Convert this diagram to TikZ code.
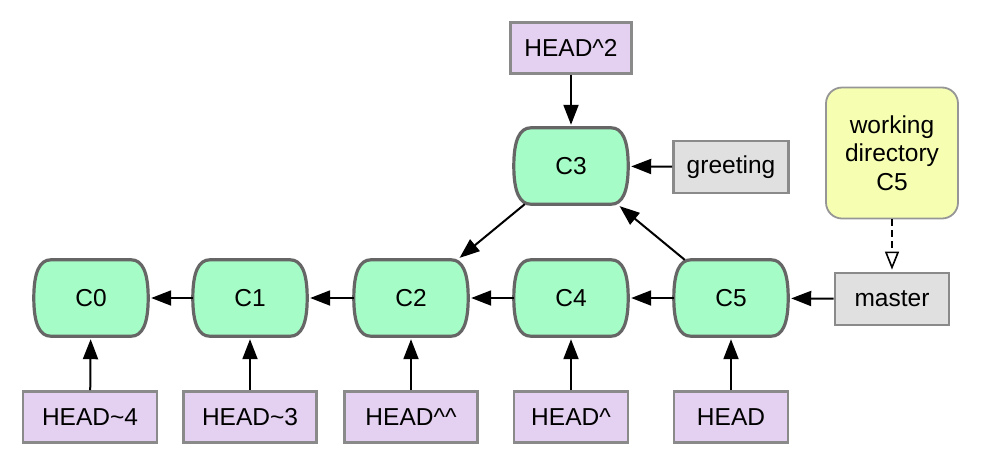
\documentclass[tikz,border=0pt]{standalone}
\usepackage{fontspec}
\setmainfont{Liberation Sans}
\usetikzlibrary{arrows.meta}
\pgfdeclarelayer{bg}
\pgfsetlayers{bg,main}
\definecolor{cgreen}{RGB}{166,252,198}
\definecolor{cborder}{RGB}{102,102,102}
\definecolor{lborder}{RGB}{138,138,138}
\definecolor{lav}{RGB}{228,208,240}
\definecolor{lgray}{RGB}{224,224,224}
\definecolor{lyellow}{RGB}{246,254,178}
\definecolor{yborder}{RGB}{150,150,150}
\begin{document}
\begin{tikzpicture}[x=1pt,y=1pt,
  every node/.style={font=\fontsize{24.5}{28.5}\selectfont, text=black},
  commit/.style={minimum width=114pt, minimum height=76pt, inner sep=0pt},
  commitbody/.style={draw=cborder, line width=3.2pt, fill=cgreen},
  reflabel/.style={draw=lborder, line width=2.8pt, fill=lav, minimum height=51pt, inner sep=0pt},
  branch/.style={draw=lborder, line width=2.8pt, fill=lgray, minimum width=115pt, minimum height=52pt, inner sep=0pt},
  wdir/.style={draw=yborder, line width=1.8pt, fill=lyellow, rounded corners=16pt, minimum width=132pt, minimum height=131pt, align=center, inner sep=0pt},
  ptr/.style={line width=2pt, -{Triangle[length=20pt,width=15pt]}, shorten >=3pt},
  wptr/.style={line width=1.6pt, dashed, dash pattern=on 7pt off 4pt, -{Triangle[open,length=18pt,width=14pt,line width=1.6pt]}, shorten >=2pt}
]
\useasboundingbox (0,0) rectangle (981,-464);
% commits
\node[commit] (c0) at (91,-298) {C0};
\node[commit] (c1) at (250,-298) {C1};
\node[commit] (c2) at (411,-298) {C2};
\node[commit] (c4) at (571,-298) {C4};
\node[commit] (c5) at (731,-298) {C5};
\node[commit] (c3) at (571,-166) {C3};
\begin{pgfonlayer}{bg}
\foreach \n in {c0,c1,c2,c3,c4,c5}{
  \path[commitbody] ([xshift=17]\n.north west) -- ([xshift=-17]\n.north east)
   .. controls ([xshift=-6]\n.north east) and ([yshift=-12]\n.north east) .. (\n.east)
   .. controls ([yshift=12]\n.south east) and ([xshift=-6]\n.south east) .. ([xshift=-17]\n.south east)
   -- ([xshift=17]\n.south west)
   .. controls ([xshift=6]\n.south west) and ([yshift=12]\n.south west) .. (\n.west)
   .. controls ([yshift=-12]\n.north west) and ([xshift=6]\n.north west) .. cycle;
}
\end{pgfonlayer}
% references
\node[reflabel, minimum width=134pt] (h4) at (90,-417) {HEAD\textasciitilde 4};
\node[reflabel, minimum width=133pt] (h3) at (250,-417) {HEAD\textasciitilde 3};
\node[reflabel, minimum width=133pt] (hcc) at (411,-417) {HEAD\textasciicircum\textasciicircum};
\node[reflabel, minimum width=114pt] (hc) at (571,-417) {HEAD\textasciicircum};
\node[reflabel, minimum width=114pt] (h) at (731,-417) {HEAD};
\node[reflabel, minimum width=121pt] (hc2) at (571,-48) {HEAD\textasciicircum2};
\node[branch] (greeting) at (731,-167) {greeting};
\node[branch, minimum width=114pt] (master) at (892,-299) {master};
\node[wdir] (wd) at (892,-153) {working\\directory\\C5};
% connectors
\draw[ptr] (c1) -- (c0);
\draw[ptr] (c2) -- (c1);
\draw[ptr] (c4) -- (c2);
\draw[ptr] (c5) -- (c4);
\draw[ptr] (c3) -- (c2);
\draw[ptr] (c5) -- (c3);
\draw[ptr] (master) -- (c5);
\draw[ptr] (greeting) -- (c3);
\draw[ptr] (hc2) -- (c3);
\draw[ptr] (h4) -- (c0);
\draw[ptr] (h3) -- (c1);
\draw[ptr] (hcc) -- (c2);
\draw[ptr] (hc) -- (c4);
\draw[ptr] (h) -- (c5);
\draw[wptr] (wd) -- (master);
\end{tikzpicture}
\end{document}
